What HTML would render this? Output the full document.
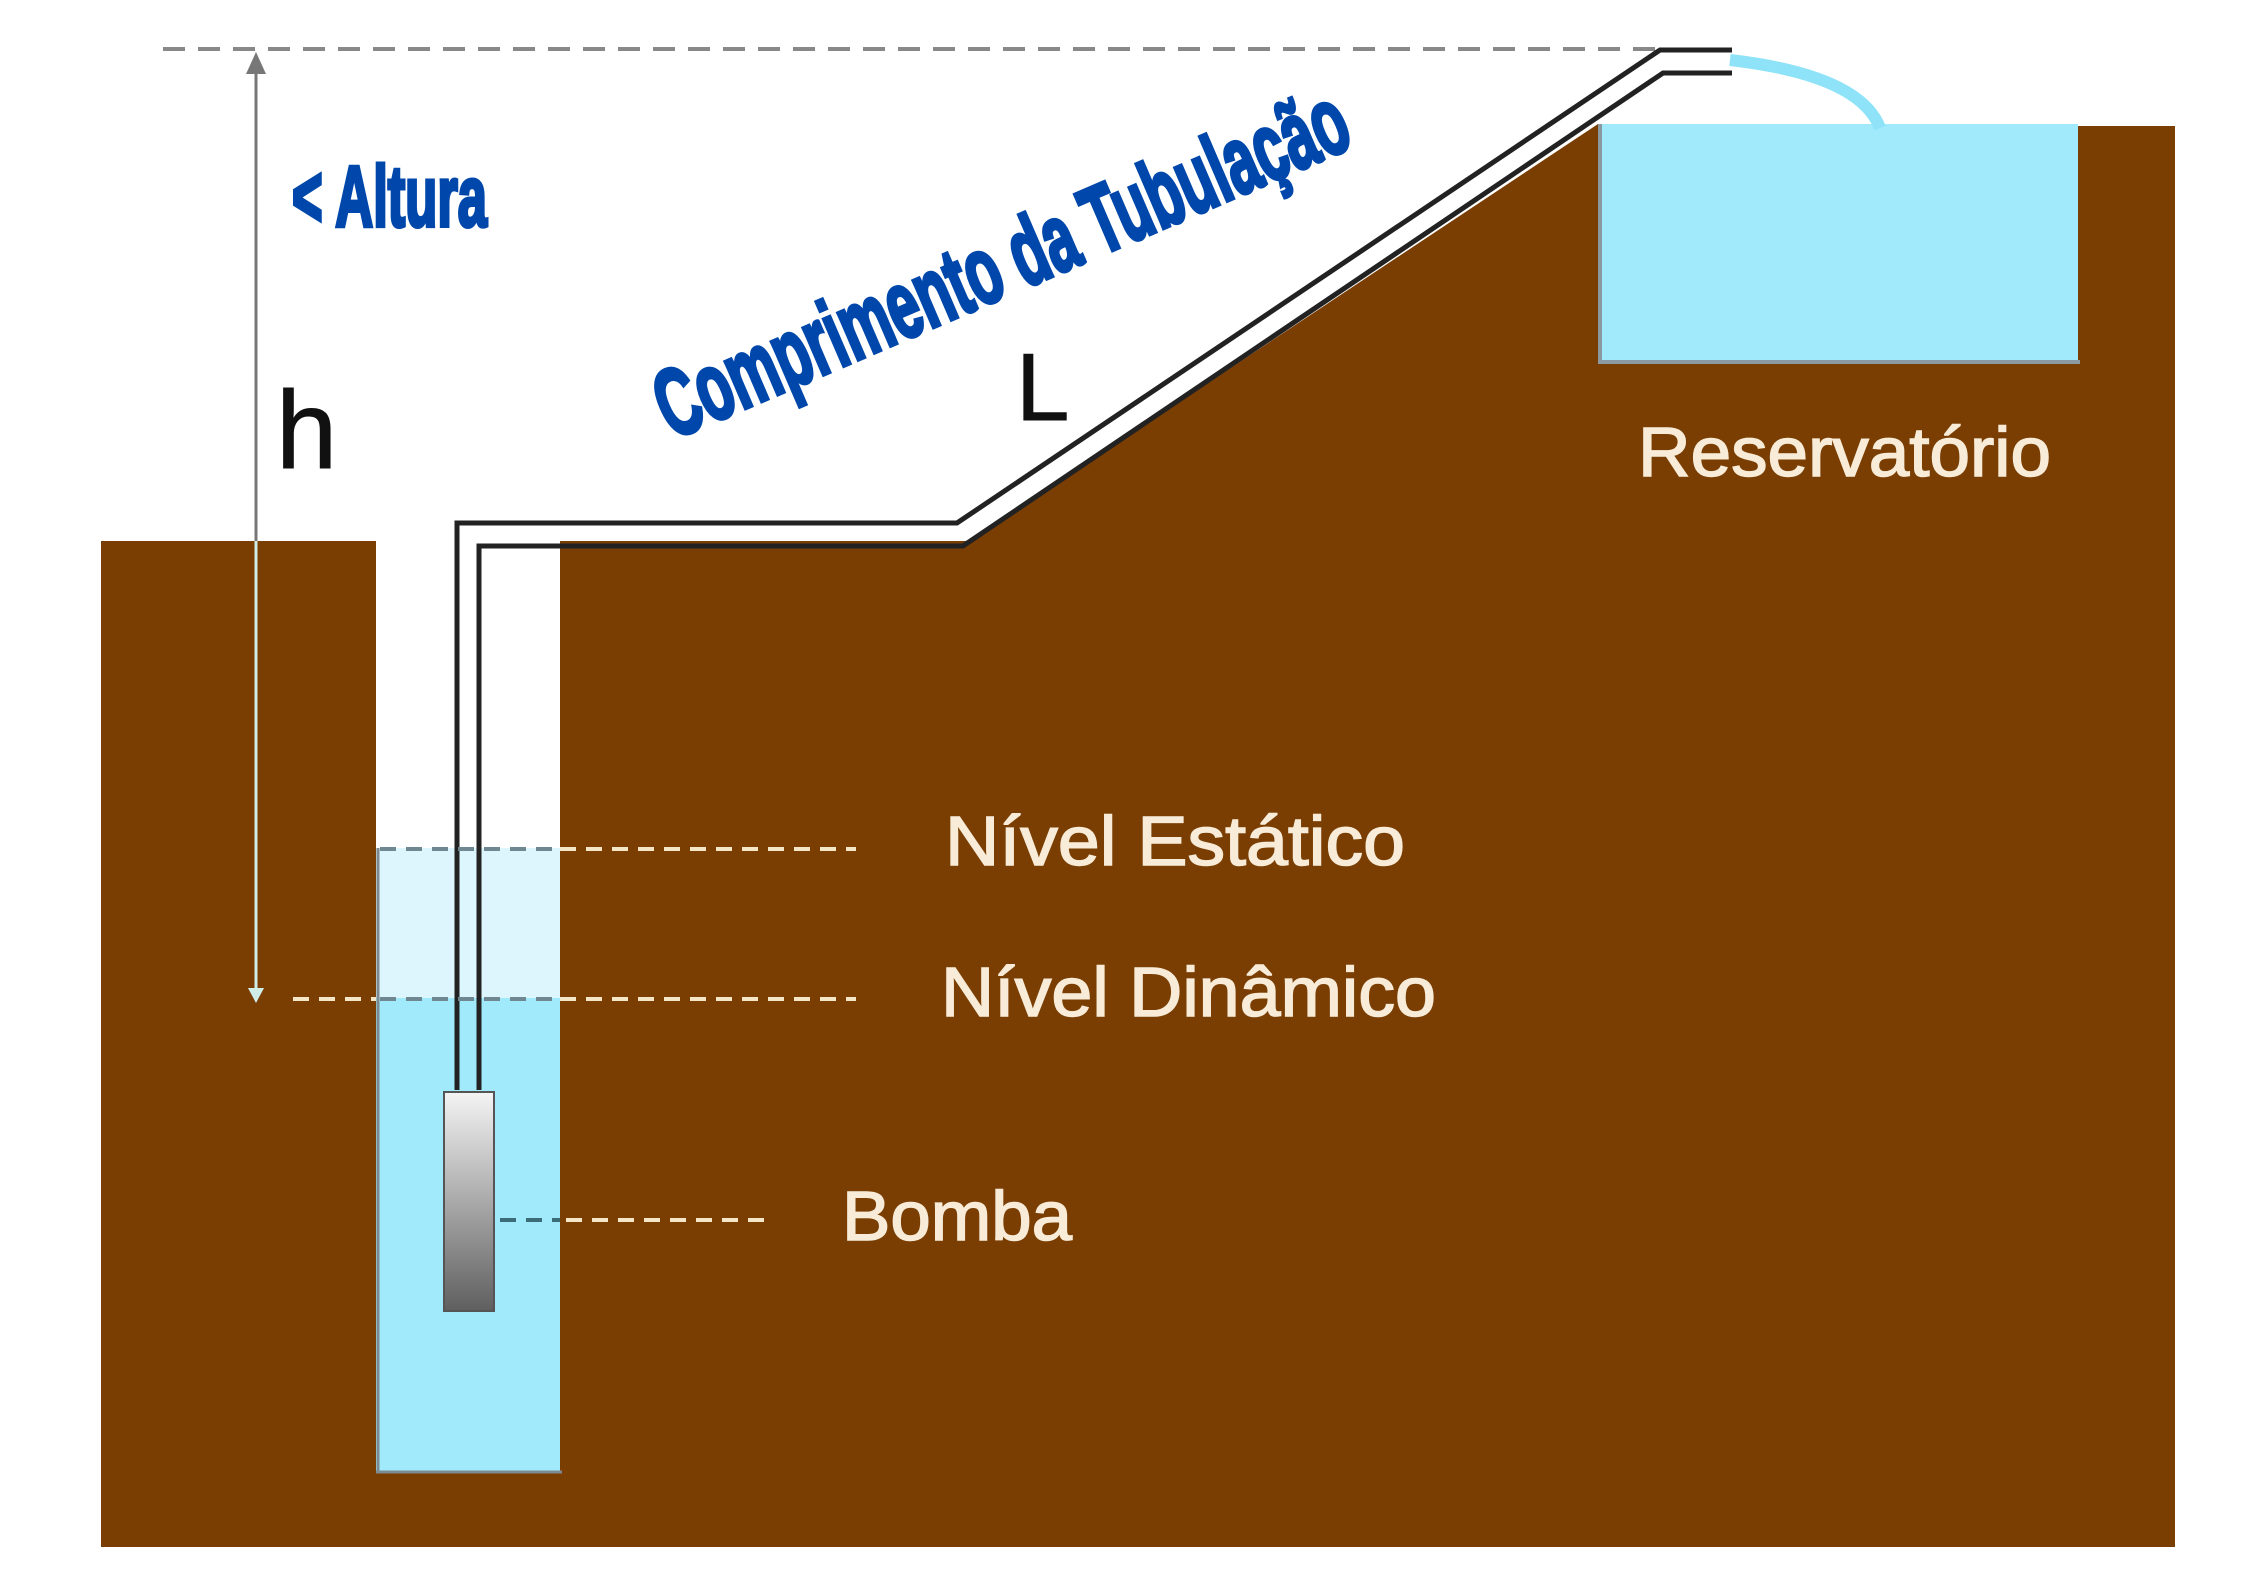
<!DOCTYPE html>
<html><head><meta charset="utf-8"><style>
html,body{margin:0;padding:0;background:#fff;}
svg{display:block;}
</style></head><body>
<svg width="2245" height="1587" viewBox="0 0 2245 1587" xmlns="http://www.w3.org/2000/svg">
<defs>
<linearGradient id="pg" x1="0" y1="0" x2="0" y2="1">
<stop offset="0" stop-color="#f4f4f4"/><stop offset="1" stop-color="#5f5f5f"/>
</linearGradient>
</defs>
<path d="M101 541 H376 V1473 H560 V541 H970 L1598 124 H2078 V126 H2175 V1547 H101 Z" fill="#7a3e03"/>
<rect x="376" y="848" width="184" height="150" fill="#ddf6fd"/>
<rect x="376" y="998" width="184" height="475" fill="#a0eafc"/>
<line x1="378" y1="848" x2="378" y2="1473" stroke="#7d8a8f" stroke-width="3"/>
<line x1="376" y1="1472" x2="562" y2="1472" stroke="#7d8a8f" stroke-width="3"/>
<rect x="1598" y="124" width="480" height="238" fill="#a0eafc"/>
<line x1="1600" y1="124" x2="1600" y2="364" stroke="#8a9aa0" stroke-width="4"/>
<line x1="1598" y1="362" x2="2080" y2="362" stroke="#8a9aa0" stroke-width="4"/>
<path d="M1730 60 Q1860 75 1880 128" fill="none" stroke="#8fe3f8" stroke-width="12"/>
<line x1="163" y1="49" x2="1660" y2="49" stroke="#888" stroke-width="4" stroke-dasharray="22 13"/>
<polyline points="457,1090 457,523 957,523 1660,50 1732,50" fill="none" stroke="#222" stroke-width="5"/>
<polyline points="479,1090 479,546 963,546 1663,73 1732,73" fill="none" stroke="#222" stroke-width="5"/>
<rect x="444" y="1092" width="50" height="219" fill="url(#pg)" stroke="#555" stroke-width="2"/>
<line x1="256" y1="70" x2="256" y2="541" stroke="#777" stroke-width="3"/>
<polygon points="256,52 246,74 266,74" fill="#777"/>
<line x1="256" y1="541" x2="256" y2="990" stroke="#cfeee8" stroke-width="3"/>
<polygon points="256,1003 248,988 264,988" fill="#cfeee8"/>
<line x1="380" y1="849" x2="560" y2="849" stroke="#6f8790" stroke-width="4" stroke-dasharray="16 10"/>
<line x1="560" y1="849" x2="856" y2="849" stroke="#f5e6c8" stroke-width="4" stroke-dasharray="16 10"/>
<line x1="293" y1="999" x2="376" y2="999" stroke="#f5e6c8" stroke-width="4" stroke-dasharray="16 10"/>
<line x1="380" y1="999" x2="560" y2="999" stroke="#6f8790" stroke-width="4" stroke-dasharray="16 10"/>
<line x1="560" y1="999" x2="856" y2="999" stroke="#f5e6c8" stroke-width="4" stroke-dasharray="16 10"/>
<line x1="500" y1="1220" x2="560" y2="1220" stroke="#3c6c78" stroke-width="4" stroke-dasharray="16 10"/>
<line x1="566" y1="1220" x2="774" y2="1220" stroke="#f5e6c8" stroke-width="4" stroke-dasharray="16 10"/>
<g font-family="'Liberation Sans', sans-serif" fill="#f8ecd8" stroke="#f8ecd8" stroke-width="1.5">
<text x="945" y="865" font-size="70" textLength="460" lengthAdjust="spacingAndGlyphs">Nível Estático</text>
<text x="941" y="1016" font-size="70" textLength="495" lengthAdjust="spacingAndGlyphs">Nível Dinâmico</text>
<text x="842" y="1240" font-size="70" textLength="230" lengthAdjust="spacingAndGlyphs">Bomba</text>
<text x="1638" y="476" font-size="70" textLength="413" lengthAdjust="spacingAndGlyphs">Reservatório</text>
</g>
<text x="276" y="468" font-family="'Liberation Sans', sans-serif" font-size="110" fill="#111" stroke="#111" stroke-width="1">h</text>
<text x="1016" y="420" font-family="'Liberation Sans', sans-serif" font-size="96" fill="#111" stroke="#111" stroke-width="1">L</text>
<text x="292" y="226" font-family="'Liberation Sans Narrow','Liberation Sans', sans-serif" font-weight="bold" font-size="86" fill="#0047ab" stroke="#0047ab" stroke-width="4" textLength="195" lengthAdjust="spacingAndGlyphs">&lt; Altura</text>
<text transform="translate(672,440) rotate(-23.3)" font-family="'Liberation Sans Narrow','Liberation Sans', sans-serif" font-weight="bold" font-size="96" fill="#0047ab" stroke="#0047ab" stroke-width="4" textLength="745" lengthAdjust="spacingAndGlyphs">Comprimento da Tubulação</text>
</svg>
</body></html>
